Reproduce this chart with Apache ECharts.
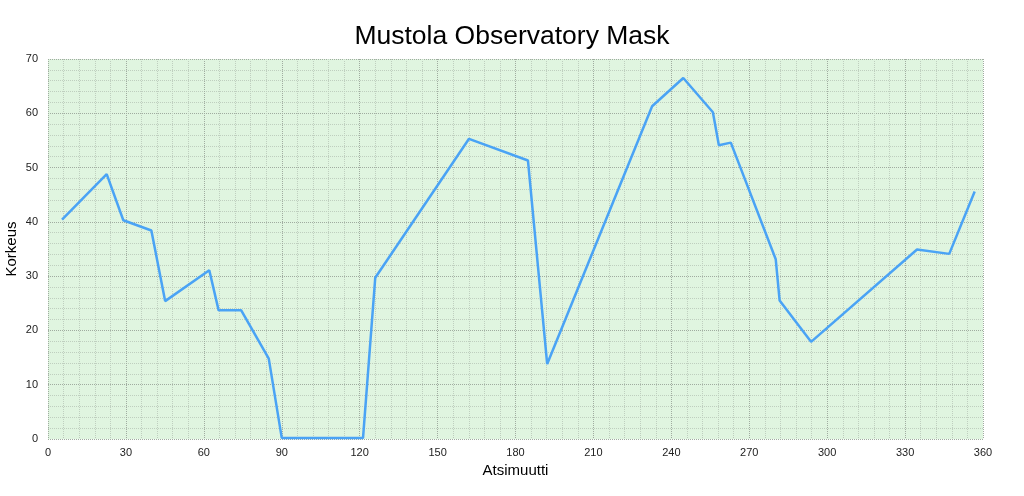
<!DOCTYPE html>
<html>
<head>
<meta charset="utf-8">
<script src="https://cdn.jsdelivr.net/npm/echarts@6/dist/echarts.min.js"></script>
<style>html,body{margin:0;padding:0;background:#fff}#c{width:1024px;height:496px}</style>
</head>
<body>
<div id="c"></div>
<script>
const azimuth = [5.4, 22.6, 29.0, 39.8, 45.1, 62.1, 65.7, 74.4, 85.0, 90.0, 121.3, 126.0, 162.1, 184.8, 192.2, 232.6, 244.6, 256.0, 258.3, 262.9, 280.2, 281.7, 293.8, 334.6, 347.0, 356.8];
const altitude = [40.4, 48.8, 40.3, 38.4, 25.4, 31.1, 23.7, 23.7, 14.8, 0.2, 0.2, 29.7, 55.3, 51.3, 13.8, 61.3, 66.5, 60.2, 54.1, 54.6, 33.1, 25.5, 17.9, 34.9, 34.1, 45.6];
const titleText = 'Mustola Observatory Mask';
const xName = 'Atsimuutti';
const yName = 'Korkeus';

const data = azimuth.map((a, i) => [a, altitude[i]]);
const font = '"Liberation Sans", Arial, Helvetica, sans-serif';
const chart = echarts.init(document.getElementById('c'), null, {renderer: 'canvas'});
chart.setOption({
  animation: false,
  title: {text: titleText, left: 'center', top: 18, textStyle: {fontFamily: font, fontSize: 26.5, fontWeight: 'normal', color: '#000'}},
  grid: {left: 48, right: 41, top: 59, bottom: 57, show: true, backgroundColor: '#e0f5e0', borderWidth: 0, outerBoundsMode: 'none', containLabel: false},
  xAxis: {
    type: 'value', min: 0, max: 360, interval: 30,
    name: xName, nameLocation: 'middle', nameGap: 24,
    nameTextStyle: {fontFamily: font, fontSize: 15, color: '#000'},
    axisLine: {show: false}, axisTick: {show: false},
    axisLabel: {fontFamily: font, fontSize: 11, color: '#222', margin: 8},
    splitLine: {show: true, lineStyle: {color: '#a0aca0', type: 'dotted', width: 1}},
    minorTick: {show: false, splitNumber: 5},
    minorSplitLine: {show: true, lineStyle: {color: '#bfcfbf', type: 'dotted', width: 1}}
  },
  yAxis: {
    type: 'value', min: 0, max: 70, interval: 10,
    name: yName, nameLocation: 'middle', nameGap: 29, nameRotate: 90, nameMoveOverlap: false,
    nameTextStyle: {fontFamily: font, fontSize: 15, color: '#000'},
    axisLine: {show: false}, axisTick: {show: false},
    axisLabel: {fontFamily: font, fontSize: 11, color: '#222', margin: 10},
    splitLine: {show: true, lineStyle: {color: '#a0aca0', type: 'dotted', width: 1}},
    minorTick: {show: false, splitNumber: 5},
    minorSplitLine: {show: true, lineStyle: {color: '#bfcfbf', type: 'dotted', width: 1}}
  },
  series: [{
    type: 'line', data: data, showSymbol: false, symbol: 'none',
    lineStyle: {color: '#4aa3f5', width: 2.5}, clip: false
  }]
});
</script>
</body>
</html>
